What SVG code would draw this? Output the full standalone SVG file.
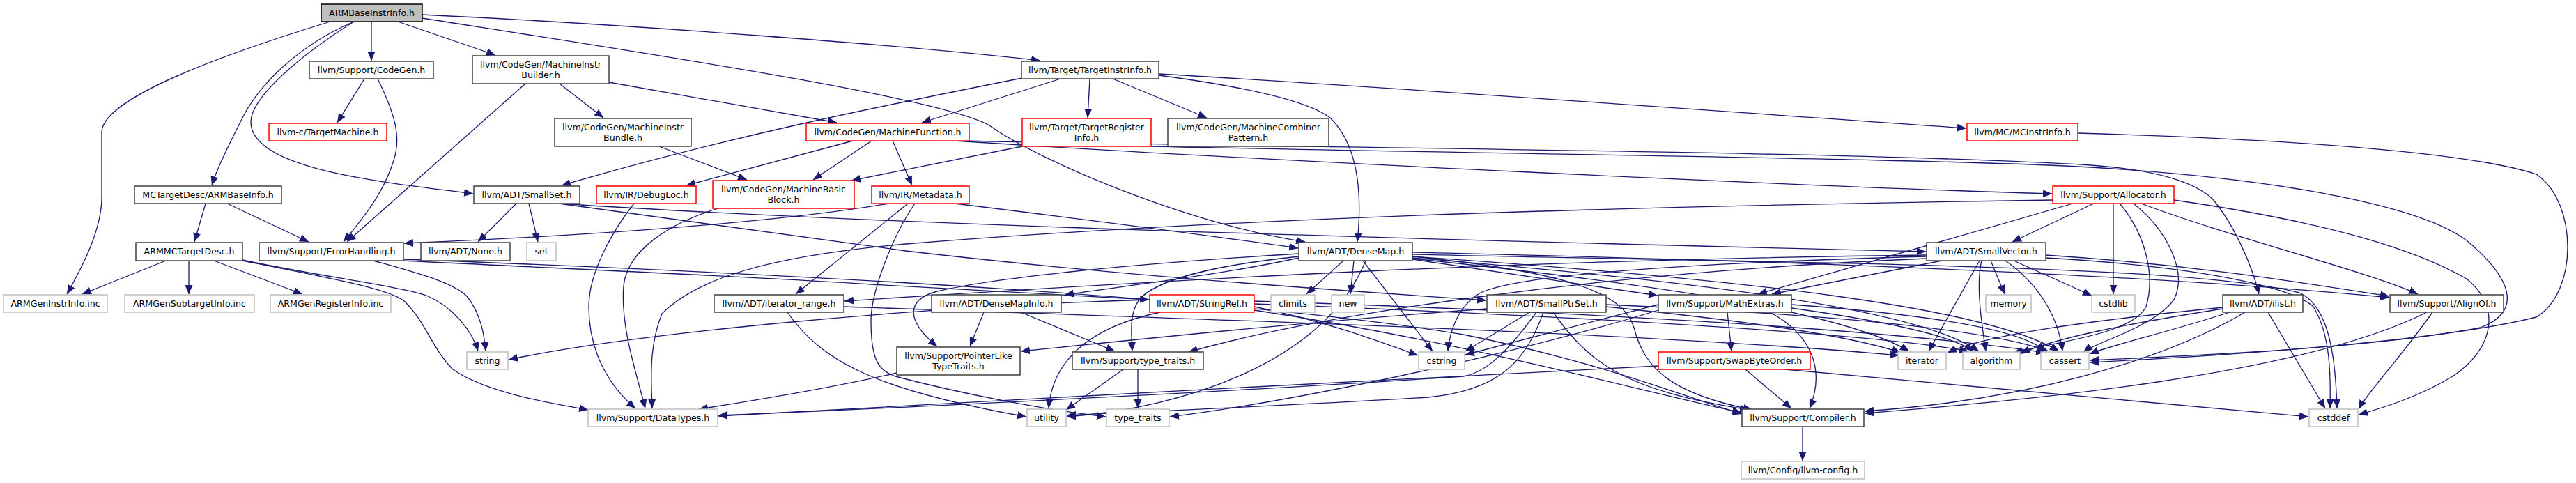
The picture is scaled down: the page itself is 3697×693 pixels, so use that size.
<svg xmlns="http://www.w3.org/2000/svg" width="3697" height="693" viewBox="0 0 3697 693">
<style>
.nd rect{fill:#fff;stroke:#404040;stroke-width:1.5}
.nd.r rect{stroke:#ff0000}
.nd.g rect{stroke:#bfbfbf}
.nd.root rect{fill:#bfbfbf;stroke:#000}
.nd text{font-family:"DejaVu Sans",sans-serif;font-size:12.6px;fill:#000;text-anchor:middle}
.e path{fill:none;stroke:#191970;stroke-width:1.3;marker-end:url(#a)}
</style>
<defs>
<marker id="a" markerWidth="13" markerHeight="11" refX="13" refY="5.5" orient="auto" markerUnits="userSpaceOnUse">
<path d="M0,0 L13,5.5 L0,11 z" fill="#191970"/>
</marker>
</defs>
<rect width="3697" height="693" fill="#fff"/>
<g id="edges" class="e">
<path d="M474,31 C330,75 146,140 146,190 L146,283 C146,330 118,383 96,422"/>
<path d="M508,31 C440,60 380,110 350,165 C330,205 312,240 304,266"/>
<path d="M508,31 C430,80 360,140 360,175 C360,245 560,262 679,278"/>
<path d="M533,31 L533,87"/>
<path d="M571,31 L711,79"/>
<path d="M606,21 C900,35 1300,65 1493,87"/>
<path d="M606,26 C950,80 1350,140 1420,180 C1490,230 1700,320 1873,347"/>
<path d="M523,113 L484,176"/>
<path d="M542,113 C570,170 575,200 565,230 C550,280 515,320 493,347"/>
<path d="M295,292 L279,347"/>
<path d="M326,292 L443,347"/>
<path d="M238,374 L118,422"/>
<path d="M271,374 L271,422"/>
<path d="M307,374 L434,422"/>
<path d="M348,373 C450,395 570,410 612,424 C650,440 678,475 686,504"/>
<path d="M348,374 C480,400 560,415 580,432 C610,460 620,500 650,530 C700,565 800,580 844,588"/>
<path d="M536,374 C600,392 650,405 670,425 C690,450 695,480 697,504"/>
<path d="M579,372 C1200,395 1800,430 2100,480 C2300,520 2420,570 2500,594"/>
<path d="M579,374 C800,385 1100,398 1250,408 C1450,418 1580,425 1649,430"/>
<path d="M754,120 L498,347"/>
<path d="M803,120 L866,169"/>
<path d="M874,118 L1201,176"/>
<path d="M946,210 L1072,258"/>
<path d="M1467,112 C1250,155 1050,195 806,266"/>
<path d="M1522,113 L1323,176"/>
<path d="M1564,113 L1561,169"/>
<path d="M1597,113 L1732,169"/>
<path d="M1663,108 C1790,125 1880,145 1910,170 C1950,210 1955,280 1948,347"/>
<path d="M1663,106 C2000,125 2500,162 2822,184"/>
<path d="M1224,202 L985,266"/>
<path d="M1251,202 L1167,258"/>
<path d="M1281,202 L1309,266"/>
<path d="M1370,202 C1800,230 2600,268 2945,278"/>
<path d="M1372,202 C1900,212 2700,218 3000,237 C3100,244 3150,262 3175,285 C3205,320 3232,380 3242,422"/>
<path d="M1467,210 L1222,259"/>
<path d="M1652,210 C2200,222 2800,228 3000,240 C3300,258 3480,300 3540,345 C3600,395 3625,445 3560,470 C3400,500 3150,510 2999,517"/>
<path d="M2982,191 C3300,200 3550,220 3640,250 C3700,290 3700,420 3640,455 C3500,490 3200,510 2999,520"/>
<path d="M1276,292 C1100,322 800,340 580,349"/>
<path d="M1303,292 L1142,422"/>
<path d="M1313,292 C1280,340 1250,420 1250,460 C1250,515 1260,532 1285,540 C1380,565 1500,588 1587,598"/>
<path d="M1370,292 C1600,320 1750,340 1863,356"/>
<path d="M741,292 L686,347"/>
<path d="M759,292 L772,347"/>
<path d="M802,292 C1200,318 1800,338 2764,361"/>
<path d="M802,292 C1000,320 1150,340 1300,360 C1600,395 1900,415 2133,431"/>
<path d="M1864,370 C1750,395 1600,412 1528,423"/>
<path d="M1864,364 C1600,380 1420,400 1345,418 C1300,430 1300,460 1345,497"/>
<path d="M1864,368 C1750,380 1660,400 1635,430 C1620,450 1624,480 1625,504"/>
<path d="M1928,374 L1875,422"/>
<path d="M1943,374 L1938,422"/>
<path d="M1956,374 L2056,504"/>
<path d="M2027,372 L2379,424"/>
<path d="M2027,362 C2600,375 3100,395 3429,427"/>
<path d="M2027,365 C2600,378 3150,380 3300,420 C3345,440 3352,520 3354,586"/>
<path d="M2027,368 C2500,400 2850,440 2955,504"/>
<path d="M2027,370 C2400,400 2750,440 2840,504"/>
<path d="M2027,371 C2400,410 2650,450 2740,504"/>
<path d="M2027,368 C2250,390 2330,420 2345,470 C2360,530 2400,565 2515,588"/>
<path d="M1960,374 C1900,520 1700,585 1531,598"/>
<path d="M2765,366 C2200,372 1700,400 1212,432"/>
<path d="M2787,374 L2543,422"/>
<path d="M2841,374 L2768,504"/>
<path d="M2844,374 C2835,410 2845,470 2850,504"/>
<path d="M2857,374 L2877,422"/>
<path d="M2878,374 C2930,410 2955,460 2960,504"/>
<path d="M2890,374 L3002,424"/>
<path d="M2936,366 C3150,380 3300,405 3429,425"/>
<path d="M2936,370 C3200,385 3300,420 3320,440 C3345,480 3345,540 3344,586"/>
<path d="M2765,368 C2400,378 2180,395 2125,420 C2090,440 2080,480 2078,504"/>
<path d="M2765,371 C2300,390 1900,450 1706,505"/>
<path d="M2479,448 L2485,504"/>
<path d="M2540,448 C2600,480 2620,530 2597,586"/>
<path d="M2380,437 L2103,509"/>
<path d="M2571,442 C2700,460 2800,480 2832,504"/>
<path d="M2571,437 C2750,450 2900,470 2935,504"/>
<path d="M2380,445 C2200,500 1900,570 1679,598"/>
<path d="M2505,530 L2571,586"/>
<path d="M2562,530 C2900,560 3150,585 3313,598"/>
<path d="M2380,525 C2000,545 1400,575 1031,597"/>
<path d="M2587,612 L2587,661"/>
<path d="M3483,448 C3300,540 2900,575 2676,593"/>
<path d="M3491,448 C3440,520 3400,560 3385,587"/>
<path d="M3190,441 C3000,460 2850,480 2795,506"/>
<path d="M3190,443 C3050,465 2950,485 2900,507"/>
<path d="M3200,448 C3100,480 3030,495 2999,508"/>
<path d="M3222,448 C3100,520 2900,575 2676,590"/>
<path d="M3255,448 L3337,586"/>
<path d="M3033,292 L3033,422"/>
<path d="M2975,292 L2523,422"/>
<path d="M3005,292 L2888,347"/>
<path d="M3073,292 C3200,340 3400,390 3470,422"/>
<path d="M3120,287 C3350,320 3470,360 3540,400 C3590,440 3580,500 3520,540 C3470,570 3420,585 3385,595"/>
<path d="M3042,292 C3075,330 3095,390 3080,440 C3060,480 2950,490 2890,506"/>
<path d="M3062,292 C3110,330 3140,390 3120,430 C3090,470 3010,490 2990,505"/>
<path d="M2946,287 C2400,295 1800,310 1300,350 C1100,368 1000,400 950,450 C930,500 935,550 936,586"/>
<path d="M1650,430 C1300,440 900,480 730,516"/>
<path d="M1665,448 C1560,470 1510,520 1505,586"/>
<path d="M1800,440 C1900,460 1980,490 2035,510"/>
<path d="M1800,432 C2200,445 2700,470 2935,506"/>
<path d="M1800,445 C2100,490 2350,560 2499,592"/>
<path d="M1800,436 C2300,455 2700,480 2825,504"/>
<path d="M1412,448 L1392,497"/>
<path d="M1465,448 L1600,504"/>
<path d="M1287,535 C1200,555 1100,572 1003,587"/>
<path d="M1612,530 L1530,588"/>
<path d="M1633,530 L1633,586"/>
<path d="M1130,448 C1180,520 1260,560 1473,598"/>
<path d="M1211,440 C1800,460 2400,480 2725,510"/>
<path d="M2195,448 L2103,504"/>
<path d="M2134,443 C1900,460 1700,480 1465,504"/>
<path d="M2205,448 C2160,510 2130,535 2100,540 C1800,560 1300,585 1031,596"/>
<path d="M2215,448 C2190,520 2150,560 2050,570 C1800,585 1600,592 1531,596"/>
<path d="M2229,448 C2280,520 2330,560 2510,588"/>
<path d="M2305,437 C2600,450 2850,470 2940,504"/>
<path d="M2305,440 C2500,460 2650,480 2728,506"/>
<path d="M910,292 C880,330 845,390 845,440 C845,500 870,550 912,586"/>
<path d="M1031,299 C960,320 900,360 895,410 C890,470 915,540 926,586"/>
</g>
<g id="n1" class="nd root"><rect x="461" y="6" width="145" height="25"/><text x="533.5" y="23">ARMBaseInstrInfo.h</text></g>
<g id="n2" class="nd"><rect x="444" y="88" width="178" height="25"/><text x="533" y="105">llvm/Support/CodeGen.h</text></g>
<g id="n3" class="nd r"><rect x="386" y="177" width="169" height="25"/><text x="470.5" y="194">llvm-c/TargetMachine.h</text></g>
<g id="n4" class="nd"><rect x="193" y="267" width="211" height="25"/><text x="298.5" y="284">MCTargetDesc/ARMBaseInfo.h</text></g>
<g id="n5" class="nd"><rect x="195" y="348" width="153" height="26"/><text x="271.5" y="365">ARMMCTargetDesc.h</text></g>
<g id="n6" class="nd"><rect x="372" y="348" width="207" height="26"/><text x="475.5" y="365">llvm/Support/ErrorHandling.h</text></g>
<g id="n7" class="nd g"><rect x="5" y="423" width="149" height="25"/><text x="79.5" y="440">ARMGenInstrInfo.inc</text></g>
<g id="n8" class="nd g"><rect x="179" y="423" width="186" height="25"/><text x="272" y="440">ARMGenSubtargetInfo.inc</text></g>
<g id="n9" class="nd g"><rect x="388" y="423" width="173" height="25"/><text x="474.5" y="440">ARMGenRegisterInfo.inc</text></g>
<g id="n10" class="nd"><rect x="678" y="80" width="196" height="40"/><text x="776" y="97">llvm/CodeGen/MachineInstr</text><text x="776" y="112">Builder.h</text></g>
<g id="n11" class="nd"><rect x="796" y="170" width="196" height="40"/><text x="894" y="187">llvm/CodeGen/MachineInstr</text><text x="894" y="202">Bundle.h</text></g>
<g id="n12" class="nd r"><rect x="1157" y="177" width="234" height="25"/><text x="1274" y="194">llvm/CodeGen/MachineFunction.h</text></g>
<g id="n13" class="nd"><rect x="680" y="267" width="152" height="25"/><text x="756" y="284">llvm/ADT/SmallSet.h</text></g>
<g id="n14" class="nd r"><rect x="856" y="267" width="143" height="25"/><text x="927.5" y="284">llvm/IR/DebugLoc.h</text></g>
<g id="n15" class="nd r"><rect x="1023" y="259" width="203" height="40"/><text x="1124.5" y="276">llvm/CodeGen/MachineBasic</text><text x="1124.5" y="291">Block.h</text></g>
<g id="n16" class="nd"><rect x="604" y="348" width="128" height="26"/><text x="668" y="365">llvm/ADT/None.h</text></g>
<g id="n17" class="nd g"><rect x="756" y="348" width="42" height="26"/><text x="777" y="365">set</text></g>
<g id="n18" class="nd"><rect x="1466" y="88" width="197" height="25"/><text x="1564.5" y="105">llvm/Target/TargetInstrInfo.h</text></g>
<g id="n19" class="nd r"><rect x="1467" y="170" width="185" height="40"/><text x="1559.5" y="187">llvm/Target/TargetRegister</text><text x="1559.5" y="202">Info.h</text></g>
<g id="n20" class="nd"><rect x="1676" y="170" width="231" height="40"/><text x="1791.5" y="187">llvm/CodeGen/MachineCombiner</text><text x="1791.5" y="202">Pattern.h</text></g>
<g id="n21" class="nd r"><rect x="1251" y="267" width="140" height="25"/><text x="1321" y="284">llvm/IR/Metadata.h</text></g>
<g id="n22" class="nd r"><rect x="2823" y="177" width="159" height="25"/><text x="2902.5" y="194">llvm/MC/MCInstrInfo.h</text></g>
<g id="n23" class="nd r"><rect x="2946" y="267" width="174" height="25"/><text x="3033" y="284">llvm/Support/Allocator.h</text></g>
<g id="n24" class="nd"><rect x="2765" y="348" width="171" height="26"/><text x="2850.5" y="365">llvm/ADT/SmallVector.h</text></g>
<g id="n25" class="nd"><rect x="1864" y="348" width="163" height="26"/><text x="1945.5" y="365">llvm/ADT/DenseMap.h</text></g>
<g id="n26" class="nd"><rect x="1025" y="423" width="186" height="25"/><text x="1118" y="440">llvm/ADT/iterator_range.h</text></g>
<g id="n27" class="nd g"><rect x="670" y="505" width="59" height="25"/><text x="699.5" y="522">string</text></g>
<g id="n28" class="nd g"><rect x="844" y="587" width="186" height="25"/><text x="937" y="604">llvm/Support/DataTypes.h</text></g>
<g id="n29" class="nd"><rect x="1337" y="423" width="186" height="25"/><text x="1430" y="440">llvm/ADT/DenseMapInfo.h</text></g>
<g id="n30" class="nd r"><rect x="1650" y="423" width="150" height="25"/><text x="1725" y="440">llvm/ADT/StringRef.h</text></g>
<g id="n31" class="nd"><rect x="1287" y="498" width="177" height="40"/><text x="1375.5" y="515">llvm/Support/PointerLike</text><text x="1375.5" y="530">TypeTraits.h</text></g>
<g id="n32" class="nd"><rect x="1539" y="505" width="188" height="25"/><text x="1633" y="522">llvm/Support/type_traits.h</text></g>
<g id="n33" class="nd g"><rect x="1474" y="587" width="56" height="25"/><text x="1502" y="604">utility</text></g>
<g id="n34" class="nd g"><rect x="1588" y="587" width="90" height="25"/><text x="1633" y="604">type_traits</text></g>
<g id="n35" class="nd g"><rect x="1824" y="423" width="63" height="25"/><text x="1855.5" y="440">climits</text></g>
<g id="n36" class="nd g"><rect x="1911" y="423" width="47" height="25"/><text x="1934.5" y="440">new</text></g>
<g id="n37" class="nd"><rect x="2134" y="423" width="171" height="25"/><text x="2219.5" y="440">llvm/ADT/SmallPtrSet.h</text></g>
<g id="n38" class="nd g"><rect x="2036" y="505" width="66" height="25"/><text x="2069" y="522">cstring</text></g>
<g id="n39" class="nd"><rect x="2380" y="423" width="191" height="25"/><text x="2475.5" y="440">llvm/Support/MathExtras.h</text></g>
<g id="n40" class="nd r"><rect x="2380" y="505" width="218" height="25"/><text x="2489" y="522">llvm/Support/SwapByteOrder.h</text></g>
<g id="n41" class="nd g"><rect x="2850" y="423" width="65" height="25"/><text x="2882.5" y="440">memory</text></g>
<g id="n42" class="nd g"><rect x="2724" y="505" width="69" height="25"/><text x="2758.5" y="522">iterator</text></g>
<g id="n43" class="nd g"><rect x="2817" y="505" width="82" height="25"/><text x="2858" y="522">algorithm</text></g>
<g id="n44" class="nd g"><rect x="2929" y="505" width="69" height="25"/><text x="2963.5" y="522">cassert</text></g>
<g id="n45" class="nd g"><rect x="3002" y="423" width="62" height="25"/><text x="3033" y="440">cstdlib</text></g>
<g id="n46" class="nd"><rect x="2500" y="587" width="175" height="25"/><text x="2587.5" y="604">llvm/Support/Compiler.h</text></g>
<g id="n47" class="nd g"><rect x="2499" y="662" width="177" height="25"/><text x="2587.5" y="679">llvm/Config/llvm-config.h</text></g>
<g id="n48" class="nd"><rect x="3190" y="423" width="115" height="25"/><text x="3247.5" y="440">llvm/ADT/ilist.h</text></g>
<g id="n49" class="nd"><rect x="3430" y="423" width="163" height="25"/><text x="3511.5" y="440">llvm/Support/AlignOf.h</text></g>
<g id="n50" class="nd g"><rect x="3314" y="587" width="70" height="25"/><text x="3349" y="604">cstddef</text></g>
</svg>
